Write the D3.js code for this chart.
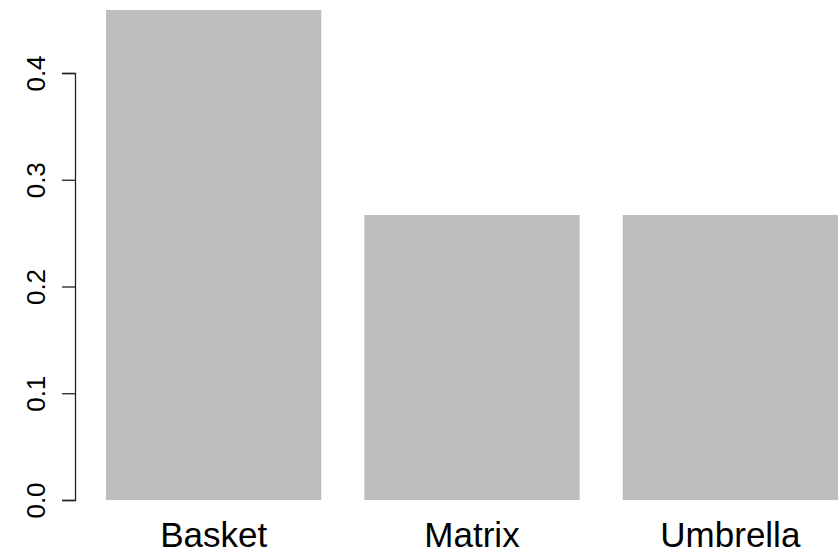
<!DOCTYPE html>
<html>
<head>
<meta charset="utf-8">
<script src="https://cdn.jsdelivr.net/npm/d3@7"></script>
<style>
  html, body { margin: 0; padding: 0; background: #fff; }
  svg { display: block; }
</style>
</head>
<body>
<svg id="chart" width="840" height="554"></svg>
<script>
const categories = ["Basket", "Matrix", "Umbrella"];
const values = [0.459, 0.267, 0.267];
const yTicks = [0.0, 0.1, 0.2, 0.3, 0.4];
const yTickLabels = ["0.0", "0.1", "0.2", "0.3", "0.4"];

const svg = d3.select("#chart");
const font = "'Liberation Sans', Arial, sans-serif";

const x = d3.scaleBand()
  .domain(categories)
  .range([106, 838])
  .paddingInner(0.2 / 1.2)
  .paddingOuter(0);

const y = d3.scaleLinear()
  .domain([0, 0.4])
  .range([500, 73]);

svg.append("g").selectAll("rect")
  .data(categories)
  .join("rect")
  .attr("x", d => x(d))
  .attr("width", x.bandwidth())
  .attr("y", (d, i) => y(values[i]))
  .attr("height", (d, i) => y(0) - y(values[i]))
  .attr("fill", "#bebebe");

// y axis
const yAxis = d3.axisLeft(y)
  .tickValues(yTicks)
  .tickFormat((d, i) => yTickLabels[i])
  .tickSize(13)
  .tickPadding(0);

const gy = svg.append("g")
  .attr("transform", "translate(75,0)")
  .call(yAxis);
gy.select(".domain").attr("stroke", "#222").attr("stroke-width", 1.3);
gy.selectAll(".tick line").attr("stroke", "#222").attr("stroke-width", 1.3);
gy.selectAll(".tick text")
  .attr("font-family", font)
  .attr("font-size", 26)
  .attr("fill", "#000")
  .attr("text-anchor", "middle")
  .attr("x", 0)
  .attr("dy", 0)
  .attr("transform", "translate(-30,0) rotate(-90)");

// x labels
svg.append("g").selectAll("text")
  .data(categories)
  .join("text")
  .attr("x", d => x(d) + x.bandwidth() / 2)
  .attr("y", 547)
  .attr("text-anchor", "middle")
  .attr("font-family", font)
  .attr("font-size", 35)
  .attr("fill", "#000")
  .text(d => d);
</script>
</body>
</html>
